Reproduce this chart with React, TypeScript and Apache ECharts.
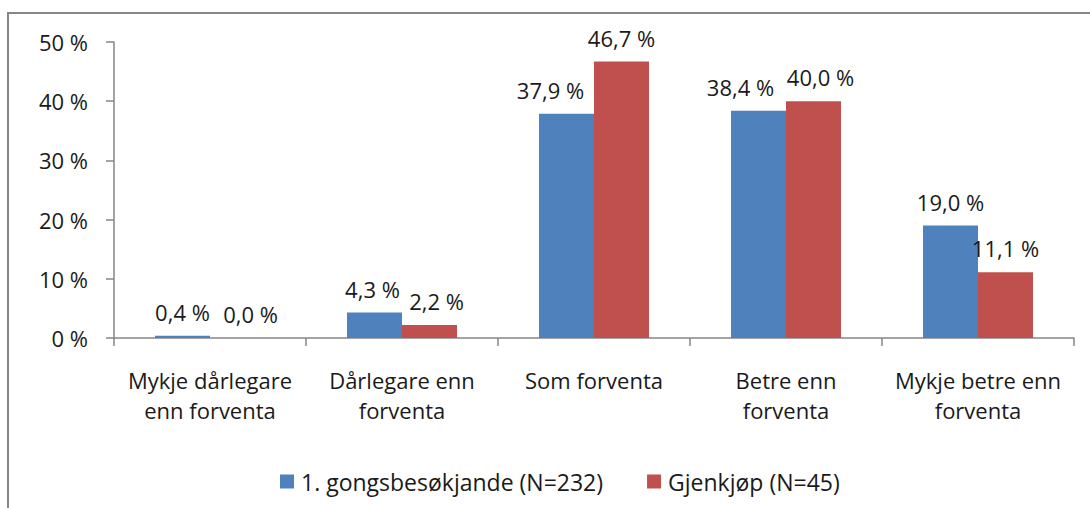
import React, { useEffect, useRef } from "react";
import * as echarts from "echarts";

const categories = [
  "Mykje dårlegare\nenn forventa",
  "Dårlegare enn\nforventa",
  "Som forventa",
  "Betre enn\nforventa",
  "Mykje betre enn\nforventa",
];
const seriesNames = ["1. gongsbesøkjande (N=232)", "Gjenkjøp (N=45)"];
const firstVisit = [0.4, 4.3, 37.9, 38.4, 19.0];
const repurchase = [0.0, 2.2, 46.7, 40.0, 11.1];
const yTicks = [0, 10, 20, 30, 40, 50];
// horizontal nudges of the data labels (as placed in the original)
const firstVisitLabelShift = [0, -2, -16, -18, 0];
const repurchaseLabelShift = [13, 7, 0, 7, 0];

const FONT = "Open Sans";
const FS = 22;
const TEXT = "#1a1a1a";
const AXIS = "#868686";

export default function App() {
  const ref = useRef<HTMLDivElement>(null);
  useEffect(() => {
    const chart = echarts.init(ref.current!, null, { renderer: "svg" });
    const label = {
      show: true,
      position: "top",
      distance: 13,
      fontFamily: FONT,
      fontSize: FS,
      color: TEXT,
      formatter: (p: any) => p.value.toFixed(1).replace(".", ",") + " %",
    };
    const build = (vals: number[], shifts: number[]) =>
      vals.map((v, i) => ({ value: v, label: { offset: [shifts[i], 0] } }));
    chart.setOption({
      animation: false,
      backgroundColor: "#fff",
      textStyle: { fontFamily: FONT },
      graphic: [
        {
          type: "rect",
          shape: { x: 8, y: 13, width: 1200, height: 600 },
          style: { fill: "none", stroke: AXIS, lineWidth: 2 },
          silent: true,
        },
      ],
      grid: { left: 114, right: 16, top: 42, height: 296 },
      legend: {
        data: seriesNames,
        left: 275,
        top: 465,
        icon: "rect",
        itemWidth: 14,
        itemHeight: 14,
        itemGap: 44,
        textStyle: { fontFamily: FONT, fontSize: 23, color: TEXT, padding: [0, 0, 0, 2] },
      },
      xAxis: {
        type: "category",
        data: categories,
        axisLine: { lineStyle: { color: AXIS, width: 1.5 } },
        axisTick: { show: true, length: 8, lineStyle: { color: AXIS, width: 1.5 } },
        axisLabel: {
          margin: 27,
          fontFamily: FONT,
          fontSize: FS,
          lineHeight: 30,
          color: TEXT,
          interval: 0,
        },
      },
      yAxis: {
        type: "value",
        min: 0,
        max: yTicks[yTicks.length - 1],
        interval: 10,
        splitLine: { show: false },
        axisLine: { show: true, lineStyle: { color: AXIS, width: 1.5 } },
        axisTick: { show: true, length: 8, lineStyle: { color: AXIS, width: 1.5 } },
        axisLabel: {
          margin: 26,
          fontFamily: FONT,
          fontSize: FS,
          color: TEXT,
          formatter: "{value} %",
        },
      },
      series: [
        {
          name: seriesNames[0],
          type: "bar",
          data: build(firstVisit, firstVisitLabelShift),
          barGap: "0%",
          barCategoryGap: "42.7%",
          itemStyle: { color: "#4F81BD" },
          label,
        },
        {
          name: seriesNames[1],
          type: "bar",
          data: build(repurchase, repurchaseLabelShift),
          itemStyle: { color: "#C0504D" },
          label,
        },
      ],
    });
    return () => chart.dispose();
  }, []);
  return (
    <div
      ref={ref}
      style={{ position: "fixed", left: 0, top: 0, width: 1090, height: 508 }}
    />
  );
}
